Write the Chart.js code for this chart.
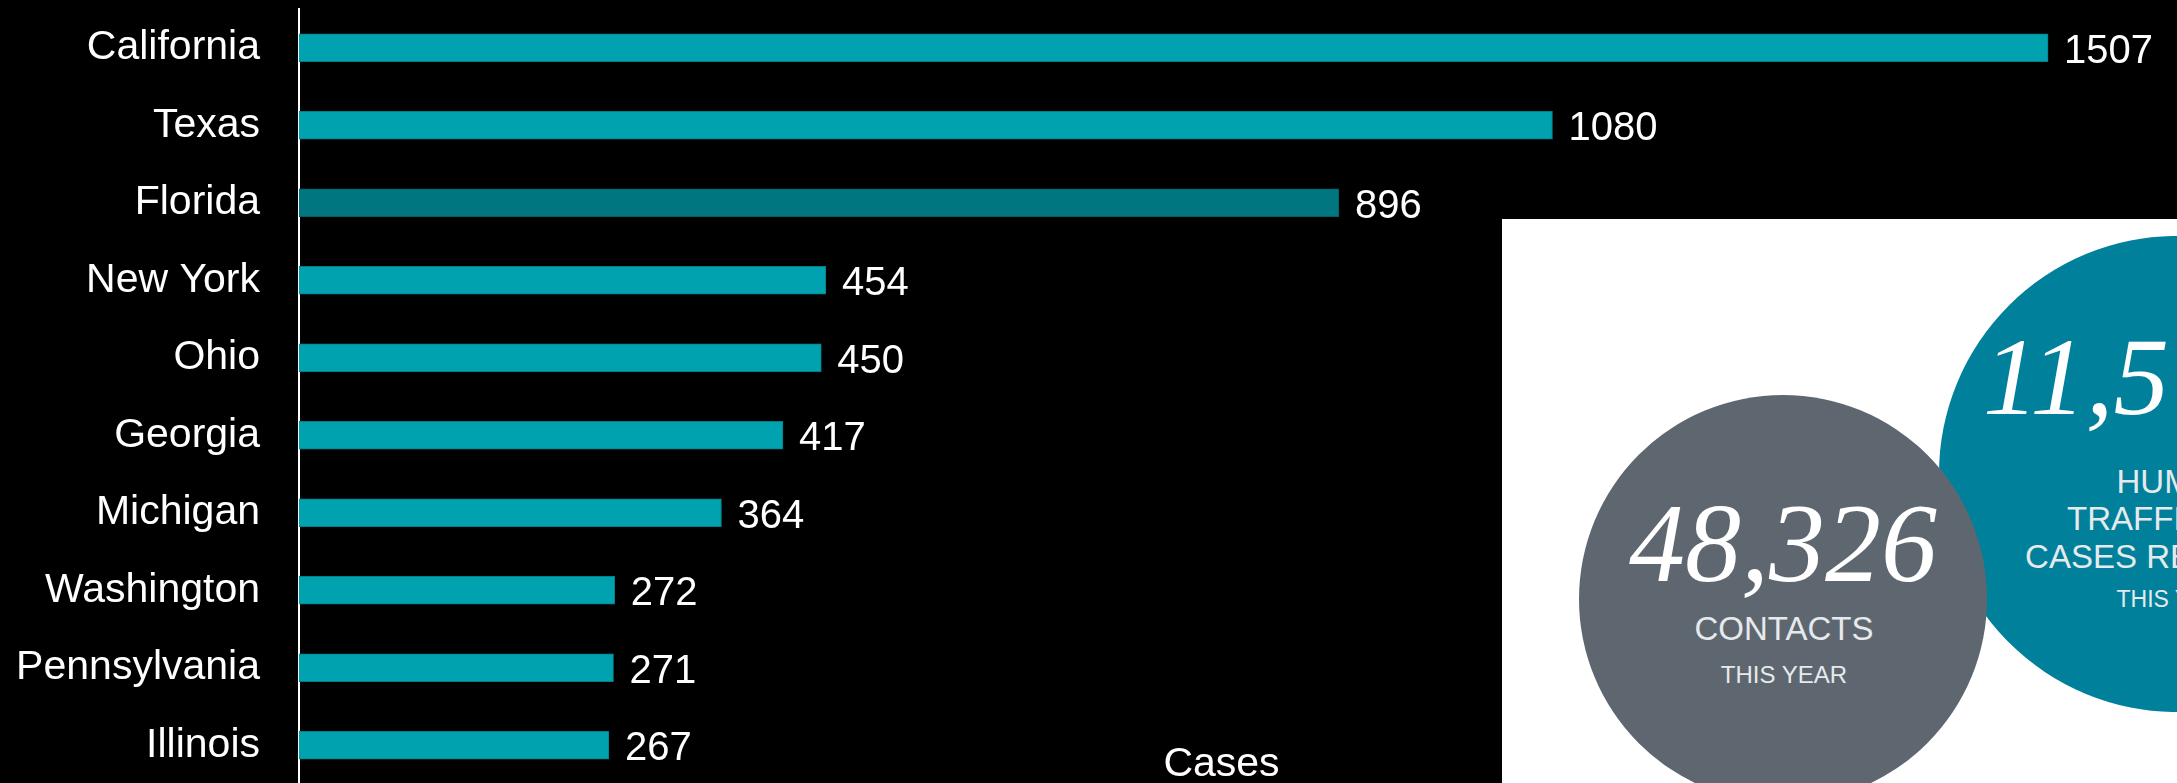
<!DOCTYPE html>
<html lang="en">
<head>
    <meta charset="UTF-8">
    <title>Human Trafficking Cases by State</title>
    <script src="https://cdn.jsdelivr.net/npm/chart.js"></script>
    <style>
        html, body {
            margin: 0;
            padding: 0;
            width: 2177px;
            height: 783px;
            overflow: hidden;
            background: #000000;
        }

        .chart-container {
            position: absolute;
            left: 0;
            top: 0;
            width: 2177px;
            height: 794px;
        }

        /* stats panel sits over the lower right of the chart */
        #stats {
            position: absolute;
            left: 0;
            top: 0;
            width: 2177px;
            height: 783px;
            pointer-events: none;
        }
    </style>
</head>
<body>
    <div class="chart-container">
        <canvas id="cases-chart"></canvas>
    </div>

    <svg id="stats" width="2177" height="783" xmlns="http://www.w3.org/2000/svg">
        <rect x="1502" y="219" width="675" height="564" fill="#ffffff"/>
        <circle cx="2177" cy="474" r="238" fill="#00809b"/>
        <circle cx="1783" cy="599" r="204" fill="#5e6770"/>

        <g font-family="'Liberation Serif', 'Times New Roman', serif" font-style="italic" fill="#ffffff">
            <text x="1783" y="581" font-size="112" text-anchor="middle">48,326</text>
            <text x="1983" y="414" font-size="111">11,5</text>
        </g>

        <g font-family="'Liberation Sans', Arial, sans-serif" fill="#e6eaec" text-anchor="middle">
            <text x="1784" y="640" font-size="33">CONTACTS</text>
            <text x="1784" y="683" font-size="24">THIS YEAR</text>
            <text x="2177" y="493" font-size="33">HUMAN</text>
            <text x="2177" y="530" font-size="33">TRAFFICKING</text>
            <text x="2177" y="568" font-size="33">CASES REPORTED</text>
            <text x="2177" y="607" font-size="23">THIS YEAR</text>
        </g>
    </svg>

    <script>
        const states = ['California', 'Texas', 'Florida', 'New York', 'Ohio', 'Georgia',
                        'Michigan', 'Washington', 'Pennsylvania', 'Illinois'];
        const cases = [1507, 1080, 896, 454, 450, 417, 364, 272, 271, 267];
        const highlightState = 'Florida';

        const barColor = '#00a2b0';
        const barEdge = '#00808b';
        const highlightColor = '#007780';
        const highlightEdge = '#006068';
        const labelFont = "'Liberation Sans', Arial, sans-serif";

        // value printed just past the end of each bar
        const valueLabels = {
            id: 'valueLabels',
            afterDatasetsDraw(chart) {
                const ctx = chart.ctx;
                const meta = chart.getDatasetMeta(0);
                ctx.save();
                ctx.fillStyle = '#ffffff';
                ctx.font = '40px ' + labelFont;
                ctx.textAlign = 'left';
                ctx.textBaseline = 'alphabetic';
                meta.data.forEach((bar, i) => {
                    ctx.fillText(String(cases[i]), bar.x + 16, bar.y + 15);
                });
                ctx.restore();
            }
        };

        // axis caption sits low inside the plot area
        const axisCaption = {
            id: 'axisCaption',
            afterDraw(chart) {
                const ctx = chart.ctx;
                const area = chart.chartArea;
                ctx.save();
                ctx.fillStyle = '#ffffff';
                ctx.font = '41px ' + labelFont;
                ctx.textAlign = 'center';
                ctx.textBaseline = 'alphabetic';
                ctx.fillText('Cases', (area.left + area.right) / 2 - 6, area.bottom - 8);
                ctx.restore();
            }
        };

        const ctx = document.getElementById('cases-chart').getContext('2d');
        new Chart(ctx, {
            type: 'bar',
            data: {
                labels: states,
                datasets: [{
                    label: 'Cases',
                    data: cases,
                    backgroundColor: states.map(s => s === highlightState ? highlightColor : barColor),
                    borderColor: states.map(s => s === highlightState ? highlightEdge : barEdge),
                    borderWidth: 1,
                    borderSkipped: 'start',
                    barThickness: 28
                }]
            },
            options: {
                indexAxis: 'y',
                responsive: true,
                maintainAspectRatio: false,
                animation: false,
                layout: {
                    padding: { top: 9, bottom: 10, left: 0, right: 21 }
                },
                plugins: {
                    legend: { display: false },
                    tooltip: { enabled: false }
                },
                scales: {
                    x: {
                        display: false,
                        min: 0,
                        max: 1600
                    },
                    y: {
                        z: 1,
                        grid: { display: false, drawTicks: false },
                        border: { display: true, color: '#ffffff', width: 2 },
                        ticks: {
                            color: '#ffffff',
                            padding: 39,
                            font: { size: 41, family: labelFont }
                        },
                        afterFit(scale) {
                            // fixed label column; the tick padding should not eat into the plot height
                            scale.width = 299;
                            scale.paddingTop = 0;
                            scale.paddingBottom = 0;
                        }
                    }
                }
            },
            plugins: [valueLabels, axisCaption]
        });
    </script>
</body>
</html>
